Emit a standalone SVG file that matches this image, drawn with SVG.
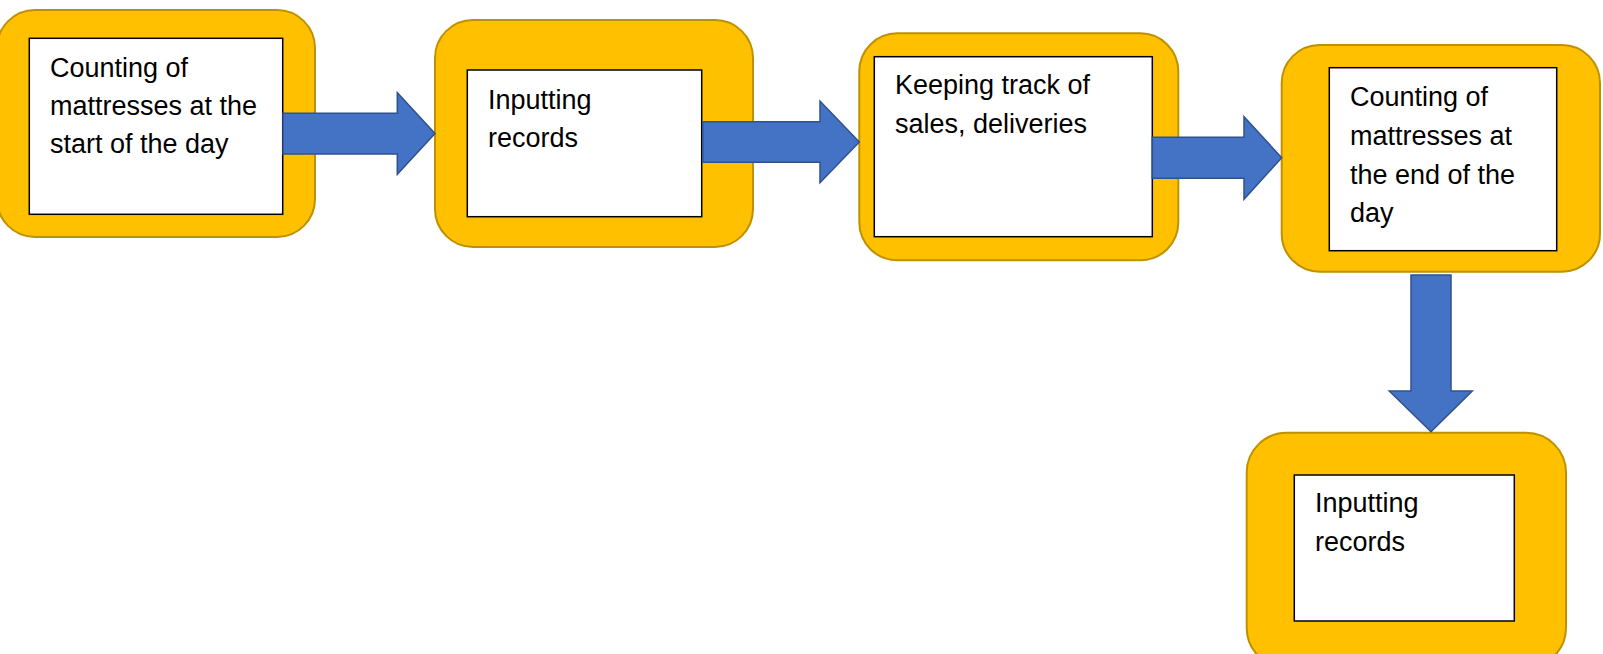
<svg xmlns="http://www.w3.org/2000/svg" width="1603" height="654" viewBox="0 0 1603 654">
  <style>
    .outer { fill: #FFC000; stroke: #BF9000; stroke-width: 2; }
    .inner { fill: #FFFFFF; stroke: #000000; stroke-width: 1.5; }
    .label { font-family: "Liberation Sans", Arial, sans-serif; font-size: 27px; fill: #000000; }
    .arrow { fill: #4472C4; stroke: #2F528F; stroke-width: 1.5; stroke-linejoin: miter; }
  </style>
  <rect width="1603" height="654" fill="#FFFFFF"/>

  <g id="node-start-count">
    <rect class="outer" x="-3" y="10" width="318" height="227" rx="38" ry="38"/>
    <rect class="inner" x="29.3" y="38.3" width="253.4" height="176"/>
    <text class="label" x="50" y="77">Counting of</text>
    <text class="label" x="50" y="115">mattresses at the</text>
    <text class="label" x="50" y="153">start of the day</text>
  </g>

  <g id="node-input-1">
    <rect class="outer" x="435" y="20" width="318" height="227" rx="38" ry="38"/>
    <rect class="inner" x="467.3" y="70" width="234.4" height="146.7"/>
    <text class="label" x="488" y="109">Inputting</text>
    <text class="label" x="488" y="147">records</text>
  </g>

  <g id="node-tracking">
    <rect class="outer" x="859.3" y="33.3" width="319" height="227" rx="38" ry="38"/>
    <rect class="inner" x="874.3" y="56.7" width="278" height="180"/>
    <text class="label" x="895" y="94">Keeping track of</text>
    <text class="label" x="895" y="133">sales, deliveries</text>
  </g>

  <g id="node-end-count">
    <rect class="outer" x="1281.7" y="45" width="318.3" height="226.7" rx="38" ry="38"/>
    <rect class="inner" x="1329.3" y="67.7" width="227.4" height="183"/>
    <text class="label" x="1350" y="106">Counting of</text>
    <text class="label" x="1350" y="145">mattresses at</text>
    <text class="label" x="1350" y="183.5">the end of the</text>
    <text class="label" x="1350" y="222">day</text>
  </g>

  <g id="node-input-2">
    <rect class="outer" x="1246.7" y="432.7" width="319.3" height="235" rx="40" ry="40"/>
    <rect class="inner" x="1294.3" y="475" width="220" height="146"/>
    <text class="label" x="1315" y="512">Inputting</text>
    <text class="label" x="1315" y="551">records</text>
  </g>

  <g id="connectors">
    <polygon class="arrow" points="283,113.3 397.3,113.3 397.3,92.7 435,133.5 397.3,174.3 397.3,154 283,154"/>
    <polygon class="arrow" points="702.7,121.7 820,121.7 820,101 859.3,142 820,182.7 820,162.3 702.7,162.3"/>
    <polygon class="arrow" points="1152.3,137.3 1244,137.3 1244,116.7 1281.7,157.8 1244,199.3 1244,178.3 1152.3,178.3"/>
    <polygon class="arrow" points="1411,275 1451,275 1451,391 1472.3,391 1431,431.7 1389.3,391 1411,391"/>
  </g>
</svg>
